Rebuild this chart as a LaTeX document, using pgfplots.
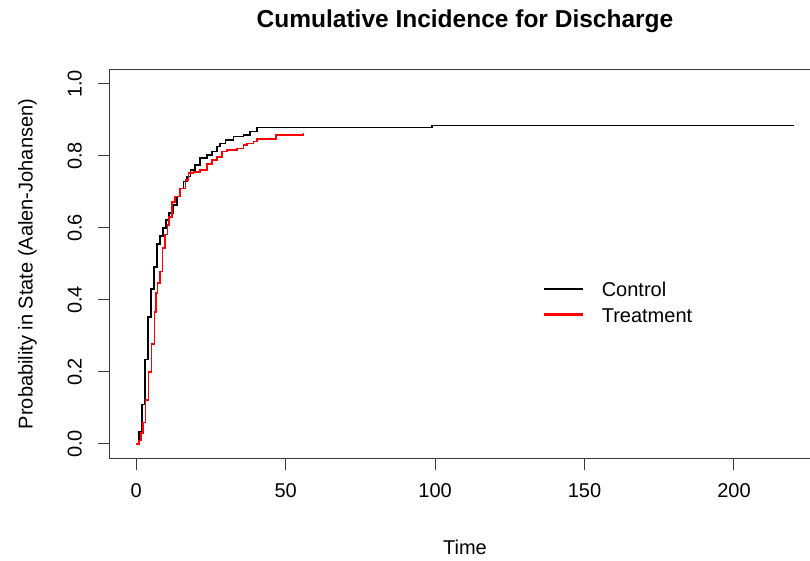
\documentclass[border=0pt]{standalone}
\usepackage{fontspec}
\setmainfont{Liberation Sans}
\usepackage{pgfplots}
\pgfplotsset{compat=1.18}
\definecolor{boxgray}{HTML}{3A3A3A}

\begin{document}
\begin{tikzpicture}
\useasboundingbox (-110pt,-102.6pt) rectangle (700pt,458.4pt);
\begin{axis}[
    at={(0,0)}, anchor=south west,
    width=710pt, height=388.8pt, scale only axis,
    xmin=-8.8, xmax=228.8, ymin=-0.04, ymax=1.04,
    xtick={0,50,100,150,200}, xticklabels={0,50,100,150,200},
    ytick={0,0.2,0.4,0.6,0.8,1}, yticklabels={0.0,0.2,0.4,0.6,0.8,1.0},
    tick pos=left, tick align=outside, major tick length=12pt,
    axis line style={boxgray, line width=1pt},
    every tick/.style={boxgray, line width=1pt},
    font=\fontsize{20}{24}\selectfont,
    xticklabel style={anchor=base, inner sep=0pt},
    xticklabel shift=27pt,
    yticklabel style={rotate=90, anchor=south, inner sep=0pt},
    yticklabel shift=16pt,
    title={Cumulative Incidence for Discharge},
    title style={font=\bfseries\fontsize{24.5}{28}\selectfont,
        at={([yshift=35.6pt]axis description cs:0.5,1)}, anchor=base, inner sep=0pt},
    xlabel={Time},
    xlabel style={at={([yshift=-95.6pt]axis description cs:0.5,0)}, anchor=base, inner sep=0pt},
    ylabel={Probability in State (Aalen-Johansen)},
    ylabel style={at={([xshift=-73pt]axis description cs:0,0.5)}, rotate=0, anchor=south, inner sep=0pt},
    legend style={draw=none, fill=none, at={(axis cs:136.1,0.380)}, anchor=west,
        inner sep=0pt, column sep=18pt, row sep=0pt,
        nodes={inner sep=0pt, text height=14.5pt, text depth=9.5pt},
        font=\fontsize{20}{24}\selectfont},
    legend cell align=left,
    legend image code/.code={
        \path (0pt,-12pt) (38pt,12pt);
        \draw[#1, line width=2.6pt] (0pt,5.5pt) -- (38pt,5.5pt);},
]

% Control
\addplot[const plot, black, line width=1.6pt] coordinates {
    (0,0) (1,0.033) (2,0.11) (3,0.235) (4,0.352) (5,0.43) (6,0.492)
    (7,0.556) (8,0.577) (9,0.6) (10,0.622) (11,0.641) (12.5,0.664)
    (13.6,0.687) (14.7,0.71) (15.8,0.729) (17,0.743) (18.1,0.761)
    (19.7,0.775) (21.4,0.794) (23.6,0.803) (25.3,0.812) (27,0.826)
    (28.1,0.835) (29.8,0.844) (32.5,0.854) (35.9,0.858) (38.1,0.868)
    (40.4,0.879) (99,0.885) (220,0.885)
};
\addlegendentry{Control}

% Treatment
\addplot[const plot, red, line width=1.6pt] coordinates {
    (0,0) (1,0.01) (1.6,0.03) (2.2,0.06) (3.1,0.122) (4.1,0.2) (5.1,0.278)
    (6.1,0.367) (6.6,0.419) (7.1,0.447) (8,0.479) (8.8,0.544) (9.6,0.582)
    (10.5,0.608) (11,0.631) (11.9,0.673) (13,0.687) (14.7,0.71) (16.4,0.733)
    (17.5,0.752) (19.2,0.756) (21.4,0.761) (23.6,0.778) (25.3,0.789)
    (27,0.798) (28.7,0.812) (30.3,0.817) (33.7,0.821) (35.9,0.831)
    (37,0.835) (39.2,0.84) (40.4,0.847) (46.8,0.858) (56,0.864)
};
\addlegendentry{Treatment}

\end{axis}
\end{tikzpicture}
\end{document}
